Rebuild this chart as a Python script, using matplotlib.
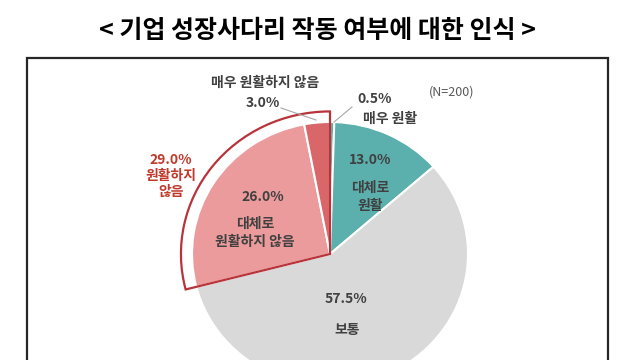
import matplotlib
matplotlib.use('Agg')
import matplotlib.pyplot as plt
from matplotlib.patches import Wedge, Rectangle

plt.rcParams['font.family'] = ['Noto Sans CJK KR', 'DejaVu Sans']

# data: clockwise from 12 o'clock
labels = ['매우 원활', '대체로 원활', '보통', '대체로 원활하지 않음', '매우 원활하지 않음']
values = [0.5, 13.0, 57.5, 26.0, 3.0]
colors = ['#5BAFAD', '#5BAFAD', '#D9D9D9', '#EC9B9C', '#D9676A']
group_total = 29.0  # 원활하지 않음 합계
title = '< 기업 성장사다리 작동 여부에 대한 인식 >'

fig = plt.figure(figsize=(6.4, 3.6), dpi=100)

# pie axes over the whole figure; the picture is slightly stretched horizontally
cx, cy, rx, ry = 330, 254, 138, 132
ax = fig.add_axes([0, 0, 1, 1])
ax.pie(values, colors=colors, startangle=90, counterclock=False, radius=1,
       wedgeprops=dict(edgecolor='white', linewidth=1.5))
ax.set_aspect('auto')
ax.set_xlim((0 - cx) / rx, (640 - cx) / rx)
ax.set_ylim((cy - 360) / ry, cy / ry)
ax.axis('off')

def P(px, py):
    # pixel position in the picture -> data coords
    return (px - cx) / rx, (cy - py) / ry

# red outline round the "not smooth" group
theta2 = 90 + group_total / 100 * 360
ax.add_patch(Wedge((0, 0), 1.08, 90, theta2, fill=False,
                   edgecolor='#B8343A', linewidth=1.6))

txt = '#404040'
kw = dict(ha='center', va='center', fontsize=10, fontweight='bold', color=txt)

ax.text(*P(265, 83), labels[4], **kw)
ax.text(*P(263, 103), f'{values[4]:.1f}%', **kw)
ax.plot(*zip(P(281, 108), P(316, 120)), color='#A6A6A6', lw=0.8)

ax.text(*P(375, 99), f'{values[0]:.1f}%', **kw)
ax.text(*P(390, 119), labels[0], **kw)
ax.plot(*zip(P(334, 122), P(352, 107)), color='#A6A6A6', lw=0.8)

ax.text(*P(452, 92), '(N=200)', ha='center', va='center', fontsize=9, color='#595959')

ax.text(*P(370, 160), f'{values[1]:.1f}%', **kw)
ax.text(*P(370, 197), '대체로\n원활', linespacing=1.35, **kw)

ax.text(*P(263, 197), f'{values[3]:.1f}%', **kw)
ax.text(*P(255, 233), '대체로\n원활하지 않음', linespacing=1.35, **kw)

ax.text(*P(346, 299), f'{values[2]:.1f}%', **kw)
ax.text(*P(347, 330), labels[2], **kw)

ax.text(*P(171, 176), f'{group_total:.1f}%\n원활하지\n않음', ha='center', va='center',
        fontsize=10, fontweight='bold', color='#C0392B', linespacing=1.2)

# frame and title
fig.patches.append(Rectangle((27 / 640, -0.05), (608 - 27) / 640, (360 - 58) / 360 + 0.05,
                             transform=fig.transFigure, fill=False,
                             edgecolor='#262626', linewidth=1.6))
fig.text(317 / 640, 1 - 31 / 360, title, ha='center', va='center',
         fontsize=18, fontweight='bold', color='black')

fig.savefig('out.png', dpi=100)
